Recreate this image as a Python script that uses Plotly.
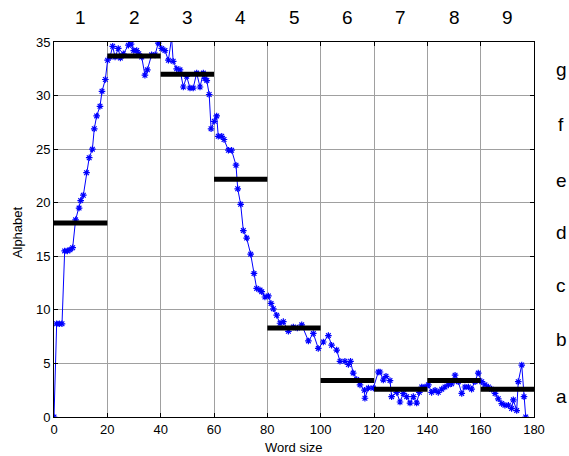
import plotly.graph_objects as go

# blue time series
series_x = [0, 1, 2, 3, 4, 5, 6, 7, 8.1, 9.4, 10, 11, 12.2, 13.2, 14.4, 15.1, 16, 17.25, 18, 19.25,
            20.1, 21, 22, 22.9, 24.1, 24.9, 26, 27.9, 28.9, 29.9, 31, 31.8, 32.9, 34.1, 35, 36.6, 37.9,
            39.1, 40.4, 41.6, 42.9, 44.1, 44.7, 46, 47.25, 48.5, 49.75, 51, 52.2, 53.5, 54.75, 56, 56.6,
            57.3, 58.2, 58.9, 60.1, 61, 61.6, 62.9, 63.75, 65.4, 66.6, 68.25, 68.9, 70, 71, 72.25, 73.75,
            75, 76, 77.25, 77.9, 79.1, 80.4, 81.4, 82.25, 83.5, 84.75, 86, 87.9, 89.75, 91.25, 92.9, 95.4,
            97.25, 99.1, 101, 102.9, 104.1, 106, 107.25, 109.1, 110.4, 111.2, 112.2, 113.5, 114.75,
            116.4, 116.6, 117.9, 119.75, 121.6, 122.25, 123.5, 124.5, 126, 126.6, 128.5, 129.75, 131,
            132.25, 133.5, 134.75, 136, 137, 137.9, 139.1, 140.4, 141.6, 142.9, 144.1, 145.4, 146.6,
            147.9, 149.1, 150.4, 151.6, 152.9, 154.1, 155.4, 156.6, 157.9, 159.1, 160.4, 161.6, 162.9,
            164.1, 165.4, 166.6, 167.9, 169.1, 170.4, 171.6, 172.25, 173.5, 174.1, 175.4, 176.25, 176.9]
series_y = [0, 8.7, 8.7, 8.7, 15.5, 15.5, 15.6, 15.8, 18.4, 19.5, 20.2, 20.7, 22.8, 24.2, 25.0, 26.9,
            28.1, 29.0, 30.4, 31.5, 33.3, 33.6, 34.6, 33.6, 34.4, 33.5, 33.9, 34.7, 34.8, 34.2, 34.2,
            33.9, 33.6, 31.9, 32.4, 33.8, 33.8, 34.9, 34.4, 34.2, 33.3, 35.4, 33.2, 32.5, 32.4, 30.8,
            31.8, 30.7, 30.7, 32.1, 30.8, 32.1, 31.6, 31.4, 30.1, 26.9, 27.6, 28.1, 26.2, 26.2, 25.9,
            24.9, 24.9, 23.5, 21.3, 19.85, 17.4, 16.7, 15.2, 13.4, 12.0, 11.85, 11.7, 11.2, 11.3, 10.6,
            10.1, 9.5, 8.75, 8.9, 8.0, 8.4, 8.3, 8.6, 7.1, 7.8, 6.4, 7.0, 7.6, 6.7, 6.25, 5.2, 5.2,
            4.9, 5.2, 4.1, 3.5, 3.0, 2.5, 1.75, 2.7, 2.7, 4.2, 4.2, 3.45, 3.8, 3.4, 1.9, 2.3, 1.4, 2.2,
            1.9, 1.3, 1.9, 1.3, 2.3, 2.8, 2.8, 3.0, 2.3, 2.5, 2.3, 2.6, 2.8, 3.0, 3.1, 3.9, 3.3, 2.2,
            2.8, 2.8, 2.6, 3.3, 4.1, 3.3, 3.0, 2.8, 2.6, 2.2, 1.7, 1.25, 1.1, 1.1, 0.8, 1.6, 0.6, 3.3,
            4.85, 1.9, 0]

# PAA segment levels (one per 20-wide segment)
seg_starts = [0, 20, 40, 60, 80, 100, 120, 140, 160]
seg_ends = [20, 40, 60, 80, 100, 120, 140, 160, 180]
seg_levels = [18.1, 33.7, 32.0, 22.2, 8.3, 3.4, 2.6, 3.4, 2.6]
seg_labels = ["1", "2", "3", "4", "5", "6", "7", "8", "9"]

# alphabet symbols on the right
letters = ["a", "b", "c", "d", "e", "f", "g"]
letter_y = [1.9, 7.2, 12.3, 17.2, 22.1, 27.3, 32.4]

fig = go.Figure()

fig.add_trace(go.Scatter(x=series_x, y=series_y, mode="lines+markers",
                         line=dict(color="#0000ff", width=1),
                         marker=dict(symbol="asterisk-open", size=5.5,
                                     line=dict(color="#0000ff", width=1.2)),
                         showlegend=False, cliponaxis=True))

for s, e, v in zip(seg_starts, seg_ends, seg_levels):
    fig.add_trace(go.Scatter(x=[s, e], y=[v, v], mode="lines",
                             line=dict(color="black", width=5), showlegend=False,
                             hoverinfo="skip"))

annotations = []
for s, e, lab in zip(seg_starts, seg_ends, seg_labels):
    annotations.append(dict(x=(s + e) / 2, y=1.064, xref="x", yref="paper", text=lab,
                            showarrow=False, font=dict(size=19, color="black"),
                            xanchor="center", yanchor="middle"))
for lt, ly in zip(letters, letter_y):
    annotations.append(dict(x=1.057, y=ly, xref="paper", yref="y", text=lt,
                            showarrow=False, font=dict(size=19, color="black"),
                            xanchor="center", yanchor="middle"))
# axis titles
annotations.append(dict(x=0.5, y=-0.08, xref="paper", yref="paper", text="Word size",
                        showarrow=False, font=dict(size=13, color="black"),
                        xanchor="center", yanchor="middle"))
annotations.append(dict(x=-0.077, y=0.493, xref="paper", yref="paper", text="Alphabet",
                        showarrow=False, font=dict(size=13, color="black"), textangle=-90,
                        xanchor="center", yanchor="middle"))

fig.update_layout(
    width=569, height=456,
    margin=dict(l=54, r=35, t=42, b=39, autoexpand=False),
    paper_bgcolor="white", plot_bgcolor="white",
    font=dict(family="Liberation Sans, Arial, sans-serif", size=13, color="black"),
    annotations=annotations,
    xaxis=dict(range=[0, 180], tickmode="linear", tick0=0, dtick=20,
               showgrid=True, gridcolor="#a0a0a0", gridwidth=1,
               showline=True, linecolor="black", linewidth=1, mirror="ticks",
               ticks="inside", ticklen=4, tickcolor="black", automargin=False,
               zeroline=False, tickfont=dict(size=13)),
    yaxis=dict(range=[0, 35], tickmode="linear", tick0=0, dtick=5,
               showgrid=True, gridcolor="#a0a0a0", gridwidth=1,
               showline=True, linecolor="black", linewidth=1, mirror="ticks",
               ticks="inside", ticklen=4, tickcolor="black", automargin=False,
               zeroline=False, tickfont=dict(size=13)),
)

fig.write_html("out.html")
